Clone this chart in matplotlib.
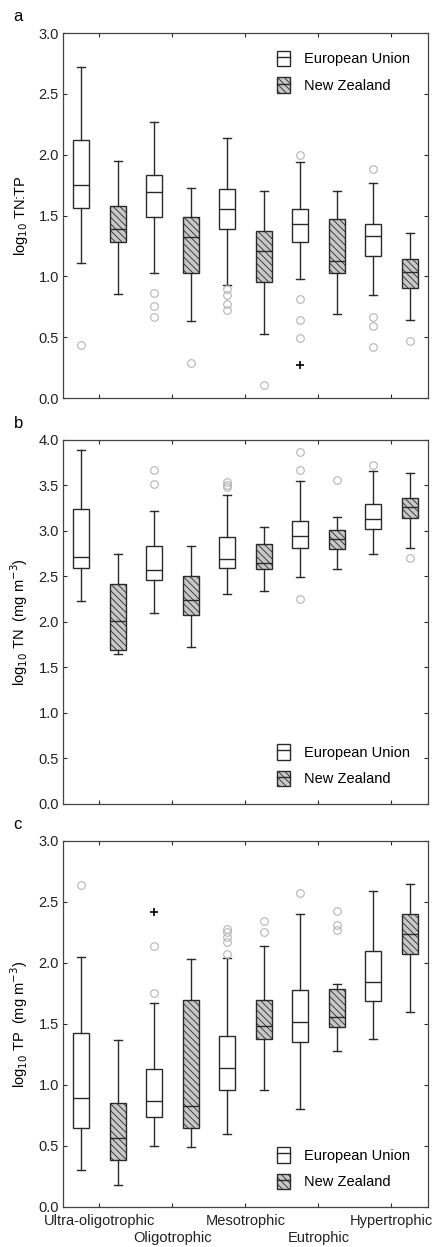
import numpy as np
import matplotlib
matplotlib.use("Agg")
import matplotlib.pyplot as plt
from matplotlib.patches import Patch
from matplotlib.lines import Line2D
from matplotlib.legend_handler import HandlerTuple

plt.rcParams['font.family'] = ['Liberation Sans', 'DejaVu Sans']
plt.rcParams['hatch.linewidth'] = 0.6
plt.rcParams['hatch.color'] = '#333333'

categories = ["Ultra-oligotrophic", "Oligotrophic", "Mesotrophic", "Eutrophic", "Hypertrophic"]

# panel a: log10 TN:TP  -- [whislo, q1, med, q3, whishi]
a_eu = [[1.11, 1.56, 1.75, 2.12, 2.72],
        [1.03, 1.49, 1.69, 1.835, 2.27],
        [0.93, 1.39, 1.55, 1.715, 2.14],
        [0.975, 1.28, 1.43, 1.55, 1.94],
        [0.85, 1.17, 1.33, 1.43, 1.77]]
a_nz = [[0.855, 1.28, 1.39, 1.575, 1.95],
        [0.63, 1.03, 1.32, 1.485, 1.73],
        [0.525, 0.95, 1.21, 1.375, 1.70],
        [0.69, 1.03, 1.13, 1.475, 1.70],
        [0.64, 0.905, 1.04, 1.145, 1.36]]
a_eu_out = [[0.44], [0.86, 0.76, 0.67], [0.90, 0.85, 0.77, 0.72], [2.0, 0.815, 0.64, 0.49], [1.88, 0.67, 0.59, 0.42]]
a_nz_out = [[], [0.29], [0.11], [], [0.47]]
a_eu_ext = [[], [], [], [0.27], []]
a_nz_ext = [[], [], [], [], []]

# panel b: log10 TN
b_eu = [[2.23, 2.59, 2.71, 3.24, 3.89],
        [2.10, 2.46, 2.57, 2.84, 3.22],
        [2.31, 2.59, 2.69, 2.935, 3.40],
        [2.49, 2.81, 2.945, 3.11, 3.55],
        [2.75, 3.02, 3.13, 3.30, 3.66]]
b_nz = [[1.65, 1.69, 2.005, 2.42, 2.75],
        [1.72, 2.08, 2.24, 2.51, 2.84],
        [2.34, 2.58, 2.65, 2.86, 3.04],
        [2.58, 2.80, 2.91, 3.01, 3.15],
        [2.81, 3.14, 3.26, 3.36, 3.64]]
b_eu_out = [[], [3.67, 3.52], [3.54, 3.51, 3.48], [3.87, 3.67, 2.25], [3.72]]
b_nz_out = [[], [], [], [3.56], [2.70]]
b_eu_ext = [[], [], [], [], []]
b_nz_ext = [[], [], [], [], []]

# panel c: log10 TP
c_eu = [[0.306, 0.647, 0.895, 1.425, 2.05],
        [0.50, 0.74, 0.865, 1.135, 1.67],
        [0.60, 0.96, 1.14, 1.40, 2.04],
        [0.80, 1.35, 1.52, 1.78, 2.405],
        [1.38, 1.685, 1.84, 2.10, 2.59]]
c_nz = [[0.177, 0.385, 0.565, 0.85, 1.365],
        [0.49, 0.647, 0.83, 1.70, 2.03],
        [0.96, 1.375, 1.48, 1.70, 2.14],
        [1.28, 1.475, 1.56, 1.79, 1.83],
        [1.595, 2.077, 2.24, 2.405, 2.645]]
c_eu_out = [[2.64], [1.75, 2.14], [2.07, 2.17, 2.21, 2.25, 2.28], [2.57], []]
c_nz_out = [[], [], [2.25, 2.345], [2.43, 2.31, 2.27], []]
c_eu_ext = [[], [2.415], [], [], []]
c_nz_ext = [[], [], [], [], []]

panels = [
    ("a", "log$_{10}$ TN:TP", (0, 3.0), a_eu, a_nz, a_eu_out, a_nz_out, a_eu_ext, a_nz_ext, "upper right"),
    ("b", "log$_{10}$ TN  (mg m$^{-3}$)", (0, 4.0), b_eu, b_nz, b_eu_out, b_nz_out, b_eu_ext, b_nz_ext, "lower right"),
    ("c", "log$_{10}$ TP  (mg m$^{-3}$)", (0, 3.0), c_eu, c_nz, c_eu_out, c_nz_out, c_eu_ext, c_nz_ext, "lower right"),
]

axpos = [[0.1445, 0.6808, 0.837, 0.2927],
         [0.1445, 0.3553, 0.837, 0.2919],
         [0.1445, 0.0321, 0.837, 0.2935]]

edge = '#2a2a2a'
flier_col = '#b5b5b5'
fs = 10.5


def make_stats(vals, outs):
    st = []
    for v, o in zip(vals, outs):
        st.append(dict(whislo=v[0], q1=v[1], med=v[2], q3=v[3], whishi=v[4], fliers=o))
    return st


fig = plt.figure(figsize=(4.36, 12.47), dpi=100)
x = np.arange(len(categories))

for i, (lab, ylab, ylim, eu, nz, eu_out, nz_out, eu_ext, nz_ext, loc) in enumerate(panels):
    ax = fig.add_axes(axpos[i])
    common = dict(widths=0.22, patch_artist=True, showfliers=True,
                  whiskerprops=dict(color=edge, lw=1.0),
                  capprops=dict(color=edge, lw=1.0),
                  medianprops=dict(color=edge, lw=1.0),
                  flierprops=dict(marker='o', mfc='none', mec=flier_col, ms=5.5, mew=0.8))
    ax.bxp(make_stats(eu, eu_out), positions=x - 0.25,
           boxprops=dict(facecolor='white', edgecolor=edge, lw=1.0), **common)
    ax.bxp(make_stats(nz, nz_out), positions=x + 0.25,
           boxprops=dict(facecolor='#c8c8c8', edgecolor=edge, lw=1.0, hatch='\\\\\\\\\\'), **common)
    for k in range(len(categories)):
        if eu_ext[k]:
            ax.plot([x[k] - 0.25] * len(eu_ext[k]), eu_ext[k], '+', color='black', ms=6, mew=1.2)
        if nz_ext[k]:
            ax.plot([x[k] + 0.25] * len(nz_ext[k]), nz_ext[k], '+', color='black', ms=6, mew=1.2)

    ax.set_xlim(-0.5, 4.5)
    ax.set_ylim(*ylim)
    yt = np.arange(ylim[0], ylim[1] + 0.01, 0.5)
    ax.set_yticks(yt)
    ax.set_yticklabels(["%.1f" % t for t in yt])
    ax.set_xticks(x[0::2])
    ax.set_xticks(x[1::2], minor=True)
    if i == 2:
        ax.set_xticklabels(categories[0::2])
        ax.set_xticklabels(categories[1::2], minor=True)
    else:
        ax.set_xticklabels([])
        ax.set_xticklabels([], minor=True)
    ax.tick_params(which='both', direction='in', top=True, right=True, length=3, width=0.8,
                   colors=edge, labelsize=fs, labelcolor='#222222', pad=3)
    ax.tick_params(axis='x', which='minor', pad=17.5)
    ax.tick_params(axis='x', which='major', pad=5)
    for s in ax.spines.values():
        s.set_color('#444444')
        s.set_linewidth(0.9)
    ax.set_ylabel(ylab, fontsize=fs, labelpad=6)
    ax.text(-0.135, 1.025, lab, transform=ax.transAxes, fontsize=12, ha='left', va='bottom')

    h_eu = (Patch(facecolor='white', edgecolor=edge, lw=1.0),
            Line2D([0], [0], color=edge, lw=1.0))
    h_nz = (Patch(facecolor='#c8c8c8', edgecolor=edge, lw=1.0, hatch='\\\\\\\\\\'),
            Line2D([0], [0], color=edge, lw=1.0))
    ax.legend([h_eu, h_nz], ["European Union", "New Zealand"], loc=loc,
              handler_map={tuple: HandlerTuple(ndivide=1)}, frameon=False,
              handlelength=0.85, handleheight=1.3, handletextpad=1.0,
              labelspacing=0.75, fontsize=fs, borderaxespad=0.8)

fig.savefig("out.png", dpi=100)
